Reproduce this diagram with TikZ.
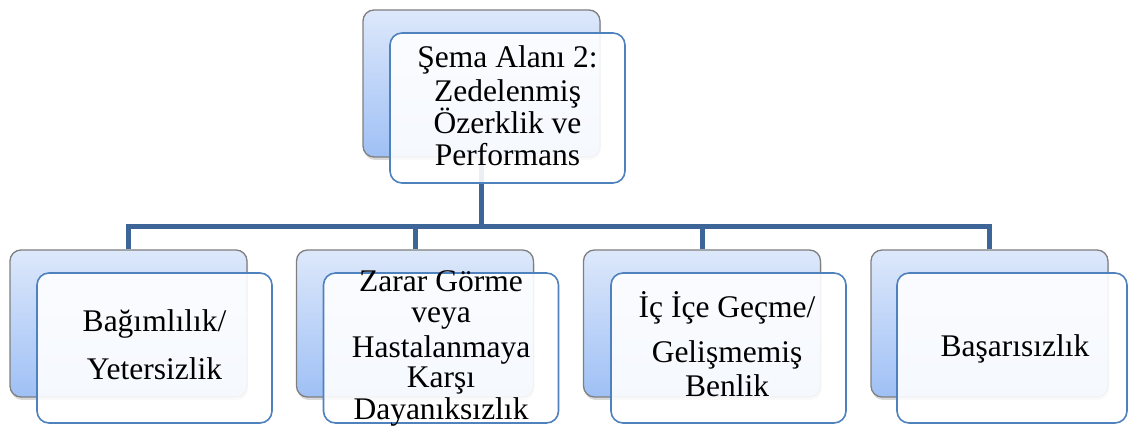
\documentclass[tikz,border=0pt]{standalone}
\usepackage{fontspec}
\setmainfont{Liberation Serif}
\usetikzlibrary{shadows}
\definecolor{backtop}{HTML}{DDE8FB}
\definecolor{backbot}{HTML}{9FC0F5}
\definecolor{backline}{HTML}{7F7F7F}
\definecolor{frontline}{HTML}{4F81BD}
\definecolor{busline}{HTML}{3D6597}
\begin{document}
\begin{tikzpicture}[x=1pt,y=-1pt,
  backbox/.style={draw=backline, line width=1.3pt, rounded corners=11pt,
    top color=backtop, bottom color=backbot, minimum width=237pt,
    minimum height=147pt, inner sep=0pt,
    drop shadow={shadow xshift=1pt, shadow yshift=-3pt, opacity=0.3}},
  frontbox/.style={draw=frontline, line width=1.6pt, rounded corners=12pt,
    fill=white, fill opacity=0.9, minimum width=235pt, minimum height=150pt,
    inner sep=0pt},
  bus/.style={draw=busline, line width=5pt, line join=miter},
  lbl/.style={anchor=base, inner sep=0pt, font=\fontsize{31.5}{33}\selectfont}]
\useasboundingbox (0,0) rectangle (1128,427);

% back cards
\node[backbox] (tb) at (481.5,83.5) {};
\node[backbox] (b1) at (128.5,323.5) {};
\node[backbox] (b2) at (415,323.5) {};
\node[backbox] (b3) at (702,323.5) {};
\node[backbox] (b4) at (989.5,323.5) {};

% tree connectors
\coordinate (busmid) at (481.5,227);
\draw[bus] (tb.south) -- (busmid);
\draw[bus] (b1.north) |- (busmid);
\draw[bus] (b2.north) |- (busmid);
\draw[bus] (b3.north) |- (busmid);
\draw[bus] (b4.north) |- (busmid);

% front cards
\node[frontbox] (tf) at (507.5,108) {};
\node[frontbox] (f1) at (154.5,348) {};
\node[frontbox] (f2) at (441,348) {};
\node[frontbox] (f3) at (728.5,348) {};
\node[frontbox, minimum width=230pt] (f4) at (1012,348) {};

% labels
\node[lbl] (t0a) at (507.5,68) {Şema Alanı 2:};
\node[lbl] (t0b) at (507.5,101.5) {Zedelenmiş};
\node[lbl] (t0c) at (507.5,133.5) {Özerklik ve};
\node[lbl] (t0d) at (507.5,166) {Performans};

\node[lbl] (t1a) at (154.5,331.5) {Bağımlılık/};
\node[lbl] (t1b) at (154.5,380) {Yetersizlik};

\node[lbl] (t2a) at (441,291.5) {Zarar Görme};
\node[lbl] (t2b) at (441,322.5) {veya};
\node[lbl] (t2c) at (441,357.5) {Hastalanmaya};
\node[lbl] (t2d) at (441,388) {Karşı};
\node[lbl] (t2e) at (441,420) {Dayanıksızlık};

\node[lbl] (t3a) at (727,318) {İç İçe Geçme/};
\node[lbl] (t3b) at (727,363) {Gelişmemiş};
\node[lbl] (t3c) at (727,397) {Benlik};

\node[lbl] (t4a) at (1015,357) {Başarısızlık};
\end{tikzpicture}
\end{document}
